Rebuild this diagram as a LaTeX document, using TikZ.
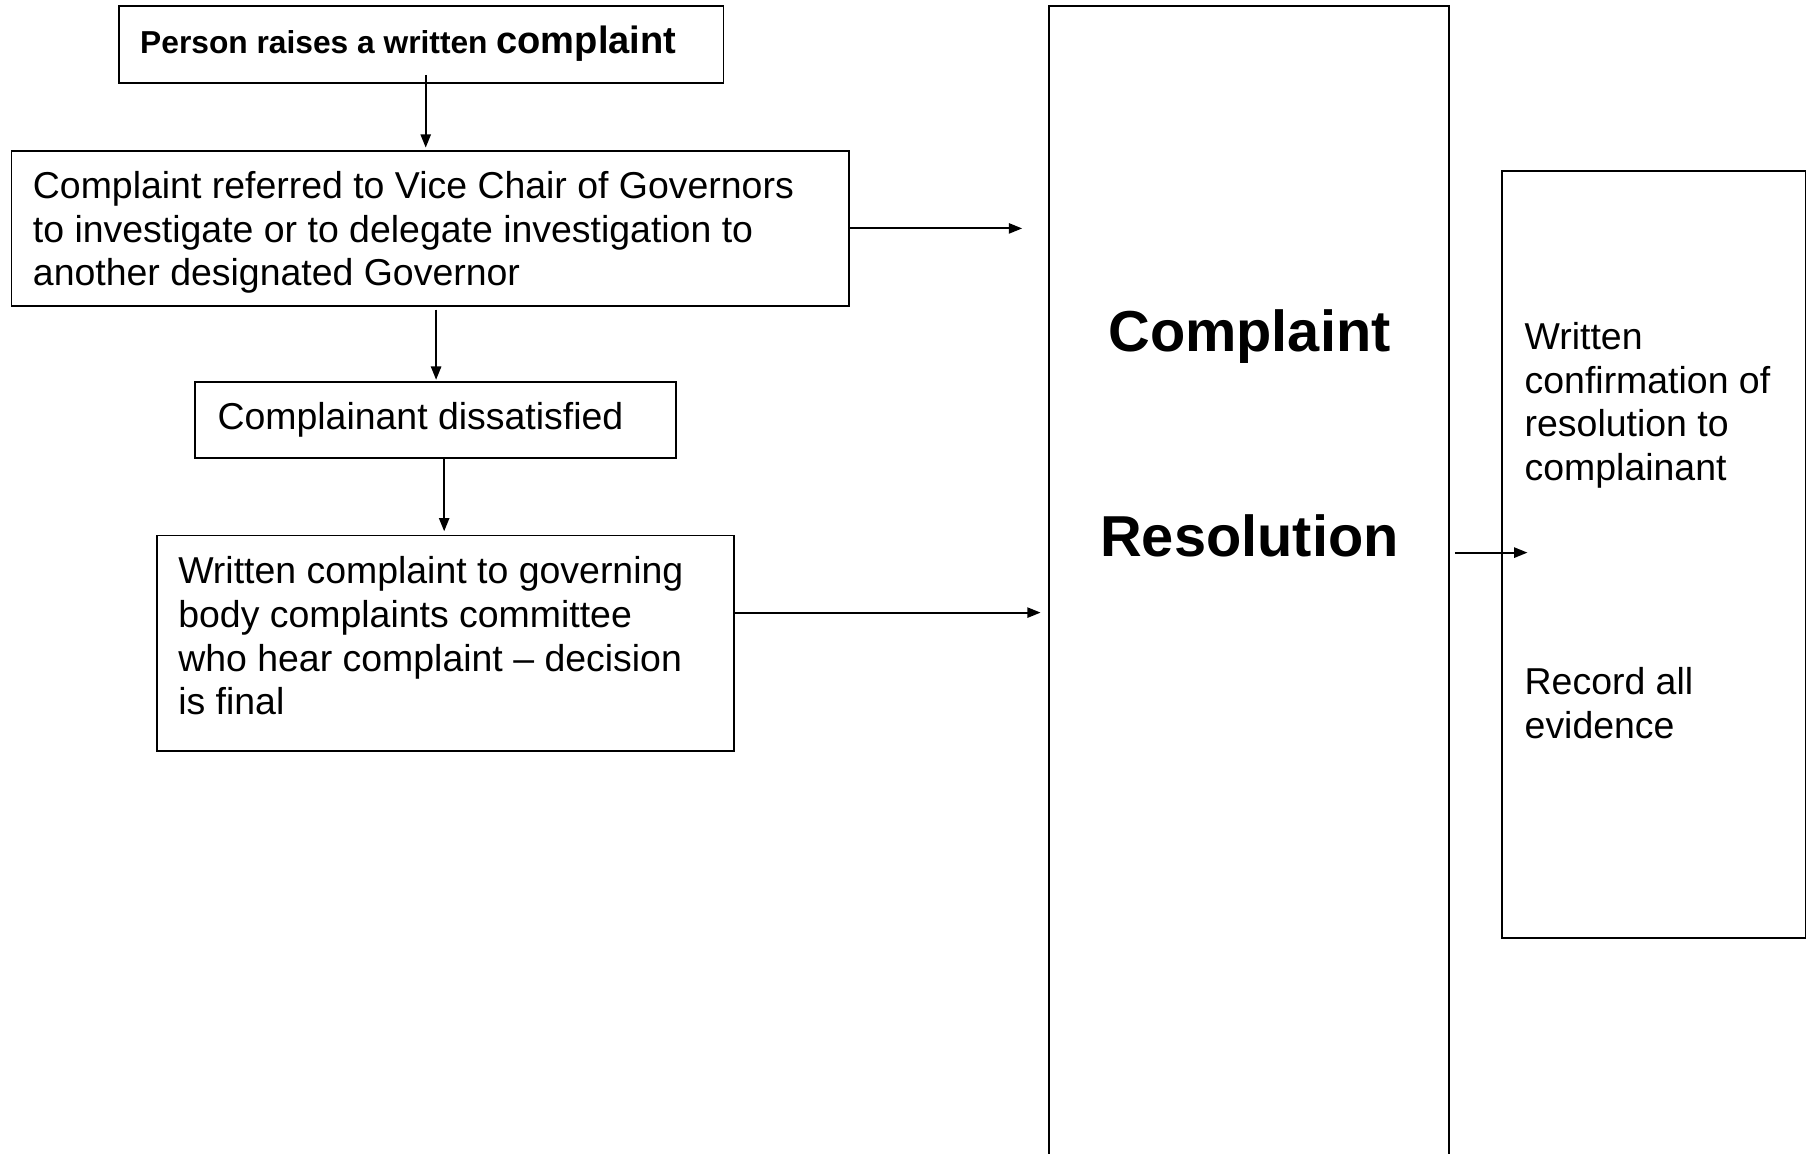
\documentclass[tikz,border=0pt]{standalone}
\usepackage{fontspec}
\setmainfont{Liberation Sans}
\usetikzlibrary{arrows.meta,fit}
\begin{document}
\begin{tikzpicture}[x=0.3636pt,y=-0.3636pt,
  box/.style={draw, line width=0.5pt, inner sep=0pt, rectangle},
  txt/.style={inner sep=0pt, align=left, font=\fontsize{11.8}{13.75}\selectfont},
  big/.style={inner sep=0pt, font=\fontsize{18.2}{20.9}\selectfont\bfseries},
  arr/.style={-{Triangle[length=4.2pt,width=3.2pt]}, line width=0.65pt}]
\clip (0,0) rectangle (1568,1000);
\fill[white] (0,0) rectangle (1568,1000);

% boxes
\node[box, fit={(103,5) (627,72)}] (b1) {};
\node[box, fit={(10,131) (736,265)}] (b2) {};
\node[box, fit={(169,331) (586,397)}] (b3) {};
\node[box, fit={(136,464) (636,651)}] (b4) {};
\node[box, fit={(909,5) (1256,1012)}] (res) {};
\node[box, fit={(1302,148) (1565,813)}] (out) {};

% texts
\node[inner sep=0pt, anchor=base west] (t1) at (121,46)
  {\fontsize{10}{12}\selectfont\bfseries Person raises a written \fontsize{12}{14}\selectfont complaint};
\node[txt, anchor=north west] (t2) at (28,148)
  {Complaint referred to Vice Chair of Governors\\to investigate or to delegate investigation to\\another designated Governor};
\node[txt, anchor=base west] (t3) at (188,372) {Complainant dissatisfied};
\node[txt, anchor=north west] (t4) at (154,482)
  {Written complaint to governing\\body complaints committee\\who hear complaint \textendash{} decision\\is final};
\node[big, anchor=base] (r1) at (1083,305) {Complaint};
\node[big, anchor=base] (r2) at (1083,482) {Resolution};
\node[txt, anchor=north west] (o1) at (1321,279)
  {Written\\confirmation of\\resolution to\\complainant};
\node[txt, anchor=north west] (o2) at (1321,578) {Record all\\evidence};

% connector end points
\coordinate (a1s) at (369,65);
\coordinate (a1e) at (369,128);
\coordinate (a2x) at (378,0);
\coordinate (a3x) at (385,0);
\coordinate (h1e) at (886,198);
\coordinate (h2e) at (902,531);
\coordinate (h3s) at (1261,479);
\coordinate (h3e) at (1324,479);

% connectors
\draw[arr] (a1s) -- (a1e);
\draw[arr] ([yshift=-1pt]b2.south -| a2x) -- ([yshift=0.4pt]b3.north -| a2x);
\draw[arr] (b3.south -| a3x) -- ([yshift=1pt]b4.north -| a3x);
\draw[arr] (b2.east) -- (h1e);
\draw[arr] (b4.east |- h2e) -- (h2e);
\draw[arr] (h3s) -- (h3e);
\end{tikzpicture}
\end{document}
